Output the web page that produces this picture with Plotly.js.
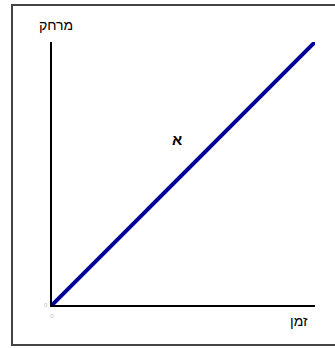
<!DOCTYPE html>
<html>
<head>
<meta charset="utf-8">
<script src="https://cdn.plot.ly/plotly-3.0.1.min.js"></script>
<style>html,body{margin:0;padding:0;background:#fff;}#chart{width:335px;height:348px;}</style>
</head>
<body>
<div id="chart"></div>
<script>
// Data
var timeValues = [0, 10];
var distanceValues = [0, 10];
var seriesLabel = "א";
var xAxisLabel = "זמן";
var yAxisLabel = "מרחק";
var tickLabels = ["0"];
var tickPositions = [0];

var trace = {
  x: timeValues,
  y: distanceValues,
  type: "scatter",
  mode: "lines",
  line: {color: "#000099", width: 4},
  hoverinfo: "none",
  showlegend: false
};

var layout = {
  width: 335,
  height: 348,
  margin: {l: 52, r: 20, t: 42, b: 43},
  paper_bgcolor: "#ffffff",
  plot_bgcolor: "#ffffff",
  font: {family: "Liberation Sans, Arial, sans-serif", color: "#000"},
  xaxis: {
    range: [0, 10], showgrid: false, zeroline: false,
    showline: true, linecolor: "#000", linewidth: 2,
    ticks: "", tickvals: tickPositions, ticktext: tickLabels,
    tickfont: {size: 6, color: "#bbbbbb"}, ticklabelstandoff: 4, fixedrange: true
  },
  yaxis: {
    range: [0, 10], showgrid: false, zeroline: false,
    showline: true, linecolor: "#000", linewidth: 2,
    ticks: "", showticklabels: false, fixedrange: true
  },
  shapes: [{
    type: "rect", xref: "paper", yref: "paper",
    x0: (12 - 52) / 263, x1: (336 - 52) / 263,
    y0: (305 - 345) / 263, y1: (305 - 5) / 263,
    line: {color: "#444444", width: 2}, fillcolor: "rgba(0,0,0,0)", layer: "below"
  }],
  annotations: [
    {text: yAxisLabel, xref: "paper", yref: "paper", x: (56 - 52) / 263, y: (305 - 25) / 263,
     xanchor: "center", yanchor: "middle", showarrow: false, font: {size: 14, color: "#000"}},
    {text: xAxisLabel, xref: "paper", yref: "paper", x: (299 - 52) / 263, y: (305 - 321) / 263,
     xanchor: "center", yanchor: "middle", showarrow: false, font: {size: 14, color: "#000"}},
    {text: "<b>" + seriesLabel + "</b>", xref: "x", yref: "y", x: 4.75, y: 6.3,
     xanchor: "center", yanchor: "middle", showarrow: false, font: {size: 15, color: "#000"}},
    {text: tickLabels[0], xref: "paper", yref: "y", x: (46 - 52) / 263, y: tickPositions[0],
     xanchor: "center", yanchor: "middle", showarrow: false, font: {size: 6, color: "#bbbbbb"}}
  ]
};

Plotly.newPlot("chart", [trace], layout, {staticPlot: true, displayModeBar: false});
</script>
</body>
</html>
